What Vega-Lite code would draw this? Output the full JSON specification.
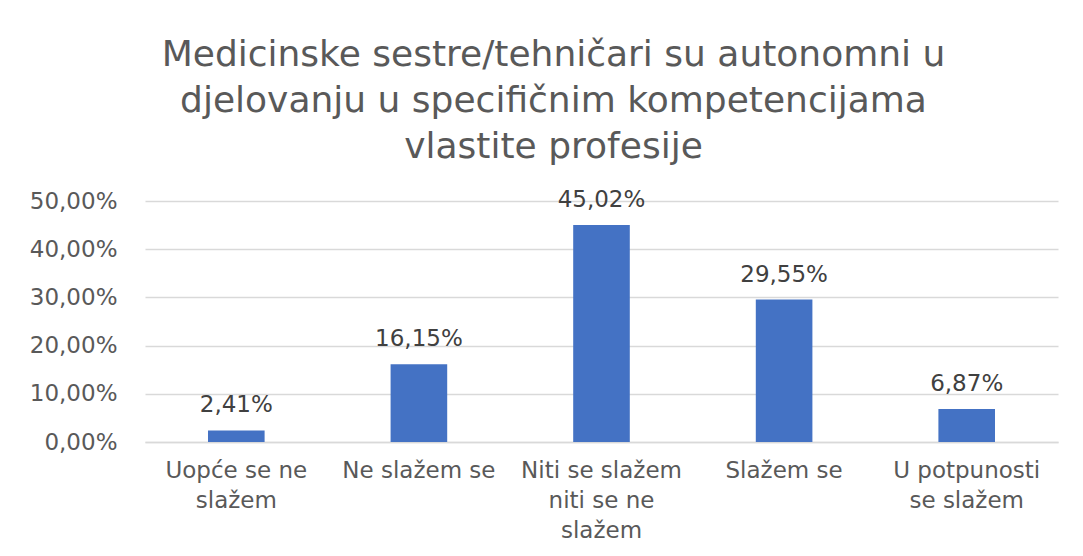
{
  "$schema": "https://vega.github.io/schema/vega-lite/v6.json",
  "width": 913,
  "height": 241,
  "autosize": "none",
  "padding": {"left": 145, "top": 201, "right": 25, "bottom": 114},
  "background": "white",
  "config": {
    "locale": {"number": {"decimal": ",", "thousands": ".", "grouping": [3], "currency": ["", " €"]}},
    "view": {"stroke": null},
    "font": "DejaVu Sans"
  },
  "title": {
    "text": ["Medicinske sestre/tehničari su autonomni u", "djelovanju u specifičnim kompetencijama", "vlastite profesije"],
    "fontSize": 36,
    "fontWeight": "normal",
    "color": "#595959",
    "lineHeight": 46,
    "anchor": "middle",
    "dx": -48,
    "offset": 23,
    "font": "DejaVu Sans"
  },
  "data": {
    "values": [
      {"category": "Uopće se ne slažem", "value": 0.0241},
      {"category": "Ne slažem se", "value": 0.1615},
      {"category": "Niti se slažem niti se ne slažem", "value": 0.4502},
      {"category": "Slažem se", "value": 0.2955},
      {"category": "U potpunosti se slažem", "value": 0.0687}
    ]
  },
  "encoding": {
    "x": {
      "field": "category",
      "type": "nominal",
      "sort": null,
      "scale": {"paddingInner": 0.69, "paddingOuter": 0.345},
      "axis": {
        "title": null,
        "labelAngle": 0,
        "labelFontSize": 23,
        "labelColor": "#595959",
        "labelLineHeight": 30,
        "labelPadding": 17,
        "labelBaseline": "top",
        "ticks": false,
        "domainColor": "#D9D9D9",
        "domainWidth": 1.5,
        "labelExpr": "datum.value == 'Uopće se ne slažem' ? ['Uopće se ne', 'slažem'] : datum.value == 'Niti se slažem niti se ne slažem' ? ['Niti se slažem', 'niti se ne', 'slažem'] : datum.value == 'U potpunosti se slažem' ? ['U potpunosti', 'se slažem'] : datum.value"
      }
    },
    "y": {
      "field": "value",
      "type": "quantitative",
      "scale": {"domain": [0, 0.5], "nice": false},
      "axis": {
        "title": null,
        "format": ".2%",
        "values": [0, 0.1, 0.2, 0.3, 0.4, 0.5],
        "labelFontSize": 23,
        "labelColor": "#595959",
        "labelPadding": 28,
        "ticks": false,
        "domain": false,
        "gridColor": "#D9D9D9",
        "gridWidth": 1.5
      }
    }
  },
  "layer": [
    {"mark": {"type": "bar", "color": "#4472C4"}},
    {
      "mark": {"type": "text", "baseline": "alphabetic", "dy": -18, "fontSize": 23, "color": "#404040"},
      "encoding": {"text": {"field": "value", "type": "quantitative", "format": ".2%"}}
    }
  ]
}
